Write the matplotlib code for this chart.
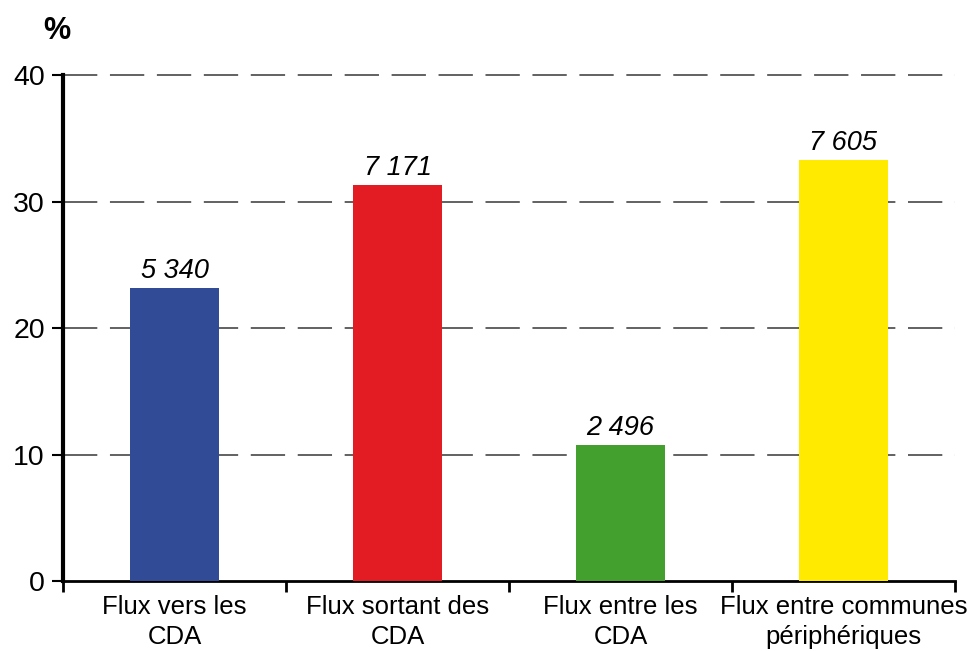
#!/usr/bin/env python
'''Bar chart of commuting flows (share in %, counts on top).'''

import matplotlib
matplotlib.use('Agg')
import matplotlib.pyplot as plt
import numpy as np

categories = ['Flux vers les\nCDA', 'Flux sortant des\nCDA',
              'Flux entre les\nCDA', 'Flux entre communes\npériphériques']
shares = [23.2, 31.3, 10.75, 33.3]
counts = ['5 340', '7 171', '2 496', '7 605']
colors = ['#314b96', '#e31c23', '#43a02e', '#ffea00']

plt.rcParams['font.family'] = ['Liberation Sans', 'DejaVu Sans']

fig = plt.figure(figsize=(9.7, 6.51), dpi=100)
ax = fig.add_axes([0.065, 0.1075, 0.9195, 0.7773])

x = np.arange(len(categories))
ax.bar(x, shares, width=0.4, color=colors, zorder=3)

for xi, h, c in zip(x, shares, counts):
    ax.text(xi, h + 0.3, c, ha='center', va='bottom', fontsize=19.5,
            style='italic', zorder=4)

ax.set_xlim(-0.5, len(categories) - 0.5)
ax.set_ylim(0, 40)
ax.set_yticks([0, 10, 20, 30, 40])
ax.tick_params(axis='y', labelsize=20.5, length=8, width=1.5, pad=5)

# category boundaries carry the ticks, labels sit between them
ax.set_xticks(np.arange(len(categories) + 1) - 0.5)
ax.set_xticklabels([])
ax.tick_params(axis='x', length=8, width=2)
ax.set_xticks(x, minor=True)
ax.set_xticklabels(categories, minor=True, fontsize=18.5, linespacing=1.3)
ax.tick_params(axis='x', which='minor', length=0, pad=10)

for yv in [10, 20, 30, 40]:
    ax.axhline(yv, color='#555555', lw=1.3, dashes=(19, 7), zorder=1,
               clip_on=False)

for s in ['top', 'right']:
    ax.spines[s].set_visible(False)
ax.spines['left'].set_linewidth(3)
ax.spines['bottom'].set_linewidth(2)

fig.text(0.045, 0.952, '%', fontsize=22, fontweight='bold', ha='left',
         va='center')

plt.savefig('out.png', dpi=100)
